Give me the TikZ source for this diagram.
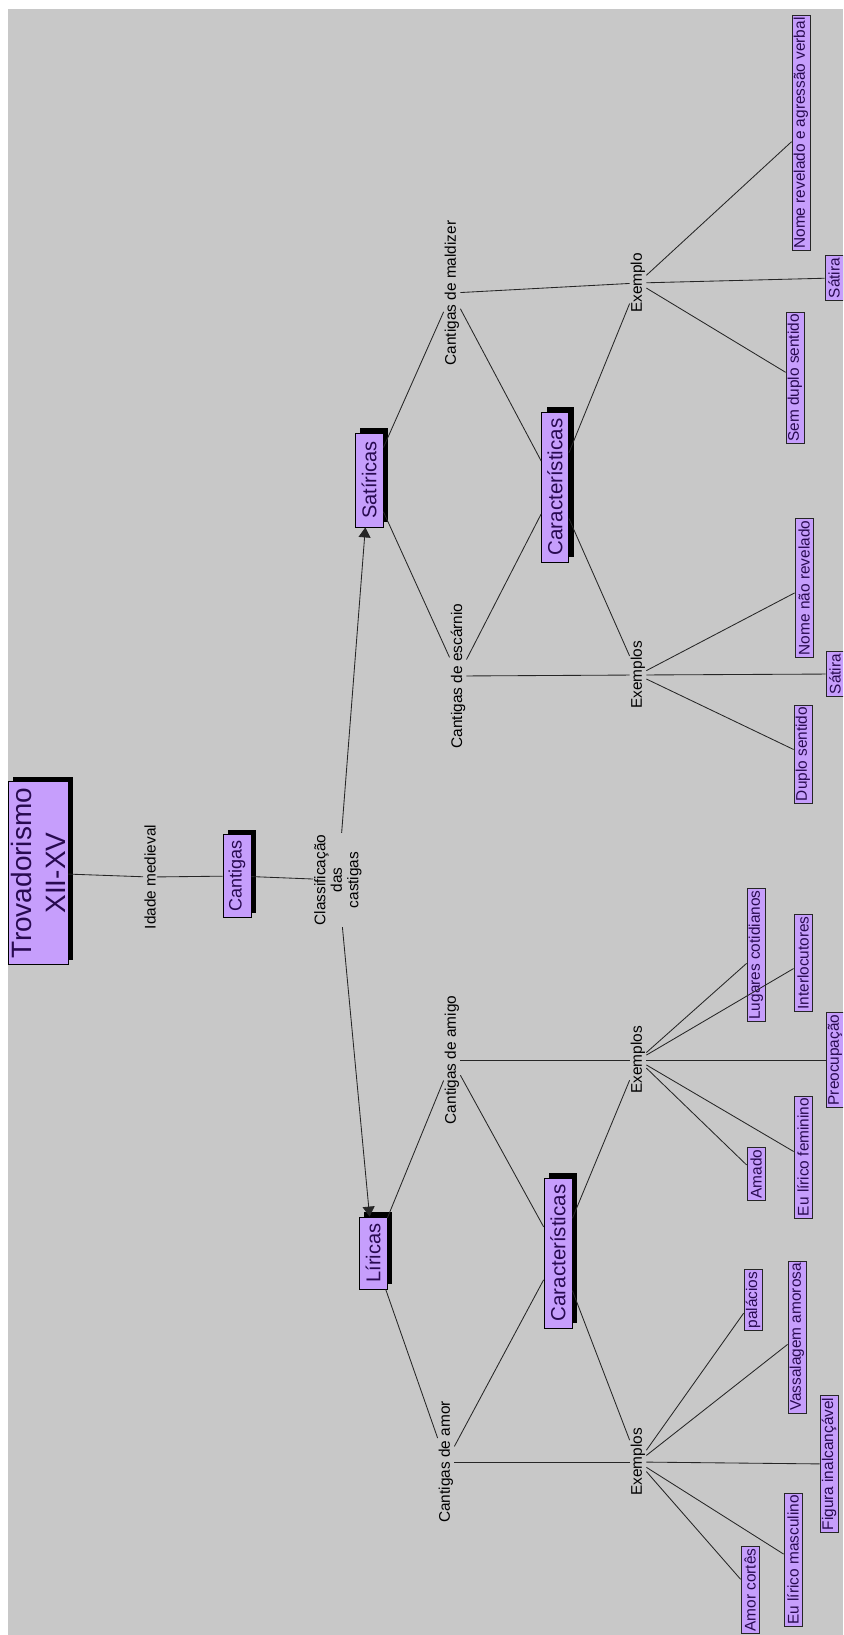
\documentclass[tikz,border=0pt]{standalone}
\usepackage{fontspec}
\setmainfont{Liberation Sans}
\usetikzlibrary{arrows.meta,shadows}
\definecolor{canvas}{RGB}{200,200,200}
\definecolor{lilac}{RGB}{198,158,252}
\definecolor{ink}{RGB}{40,10,80}
\newcommand{\vtext}[1]{\rotatebox{90}{#1}}
\begin{document}
\begin{tikzpicture}[x=1pt,y=-1pt,
  lbl/.style={inner sep=1pt,font=\fontsize{15.4}{16}\selectfont},
  concept/.style={draw=black,line width=0.8pt,fill=lilac,text=ink,inner sep=0pt,
    drop shadow={shadow xshift=5pt,shadow yshift=5pt,fill=black,opacity=1}},
  leaf/.style={draw=black!85,line width=0.8pt,fill=lilac,text=ink,inner xsep=1.5pt,
    inner ysep=2pt,minimum width=18pt,font=\fontsize{15.4}{16}\selectfont},
  link/.style={draw=black!85,line width=0.85pt},
  arrowlink/.style={link,-{Triangle[width=12pt,length=10pt]}}]
\clip (0,0) rectangle (843,1635);
\fill[white] (0,0) rectangle (843,1635);
\fill[canvas] (8,9) rectangle (843,1635);

% main chain
\node[concept,minimum width=60pt,minimum height=183pt] (trov) at (38,873)
  {\vtext{\parbox{180pt}{\centering\fontsize{28}{34}\selectfont Trovadorismo\\XII-XV}}};
\node[lbl] (idade) at (150,877) {\vtext{Idade medieval}};
\node[concept,minimum width=28pt,minimum height=83pt,font=\fontsize{18}{20}\selectfont] (cant) at (237,876) {\vtext{Cantigas}};
\node[lbl] (classif) at (338,880)
  {\vtext{\parbox{92pt}{\centering\fontsize{15.4}{16.5}\selectfont Classificação\\das\\castigas}}};

% the two kinds of cantigas
\node[concept,minimum width=28pt,minimum height=94pt,font=\fontsize{20}{22}\selectfont] (sat) at (369,480) {\vtext{Satíricas}};
\node[concept,minimum width=28pt,minimum height=72pt,font=\fontsize{20}{22}\selectfont] (lir) at (373,1253) {\vtext{Líricas}};

\node[lbl] (mald) at (452,293) {\vtext{Cantigas de maldizer}};
\node[lbl] (esc) at (458,676) {\vtext{Cantigas de escárnio}};
\node[lbl] (amigo) at (452,1060) {\vtext{Cantigas de amigo}};
\node[lbl] (amor) at (446,1462) {\vtext{Cantigas de amor}};

\node[concept,minimum width=27pt,minimum height=150pt,font=\fontsize{20.5}{22}\selectfont] (car1) at (555,487) {\vtext{Características}};
\node[concept,minimum width=28pt,minimum height=150pt,font=\fontsize{20.5}{22}\selectfont] (car2) at (558,1253) {\vtext{Características}};

\node[lbl] (ex1) at (638,283) {\vtext{Exemplo}};
\node[lbl] (ex2) at (638,675) {\vtext{Exemplos}};
\node[lbl] (ex3) at (638,1060) {\vtext{Exemplos}};
\node[lbl] (ex4) at (638,1462) {\vtext{Exemplos}};

% examples
\node[leaf] (nrav) at (801,133) {\vtext{Nome revelado e agressão verbal}};
\node[leaf] (sat1) at (834,278) {\vtext{Sátira}};
\node[leaf] (sds) at (795,378) {\vtext{Sem duplo sentido}};
\node[leaf] (nnr) at (804,588) {\vtext{Nome não revelado}};
\node[leaf] (sat2) at (835,674) {\vtext{Sátira}};
\node[leaf] (dup) at (803,754) {\vtext{Duplo sentido}};
\node[leaf] (lug) at (756,955) {\vtext{Lugares cotidianos}};
\node[leaf] (inter) at (803,963) {\vtext{Interlocutores}};
\node[leaf] (preo) at (835,1060) {\vtext{Preocupação}};
\node[leaf] (efem) at (803,1157) {\vtext{Eu lírico feminino}};
\node[leaf] (amado) at (756,1174) {\vtext{Amado}};
\node[leaf] (pal) at (753,1300) {\vtext{palácios}};
\node[leaf] (vass) at (797,1337) {\vtext{Vassalagem amorosa}};
\node[leaf] (fig) at (829,1464) {\vtext{Figura inalcançável}};
\node[leaf] (emas) at (793,1560) {\vtext{Eu lírico masculino}};
\node[leaf] (amorc) at (750,1590) {\vtext{Amor cortês}};

% connectors
\draw[link] (trov) -- (idade);
\draw[link] (idade) -- (cant);
\draw[link] (cant) -- (classif);
\draw[arrowlink] (classif) -- (sat);
\draw[arrowlink] (classif) -- (lir);
\draw[link] (sat) -- (mald);
\draw[link] (sat) -- (esc);
\draw[link] (lir) -- (amigo);
\draw[link] (lir) -- (amor);
\foreach \c/\k in {car1/mald,car1/esc,car1/ex1,car1/ex2,car2/amigo,car2/amor,car2/ex3,car2/ex4}
  \draw[link] (\c) -- (\k);
\draw[link] (mald) -- (ex1);
\draw[link] (esc) -- (ex2);
\draw[link] (amigo) -- (ex3);
\draw[link] (amor) -- (ex4);
\foreach \e/\l in {ex1/nrav,ex1/sat1,ex1/sds,ex2/nnr,ex2/sat2,ex2/dup,
  ex3/lug,ex3/inter,ex3/preo,ex3/efem,ex3/amado,
  ex4/pal,ex4/vass,ex4/fig,ex4/emas,ex4/amorc}
  \draw[link] (\e) -- (\l);
\end{tikzpicture}
\end{document}
